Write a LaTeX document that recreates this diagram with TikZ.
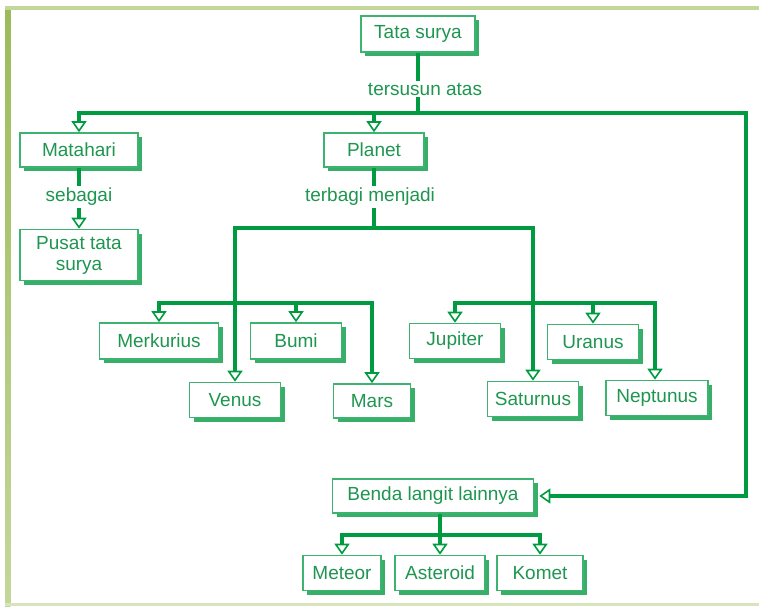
\documentclass[tikz,border=0pt]{standalone}
\usepackage{fontspec}
\setmainfont{Liberation Sans}
\usetikzlibrary{arrows.meta,shadows}
\definecolor{linec}{RGB}{0,155,65}
\definecolor{boxc}{RGB}{60,180,112}
\definecolor{shadc}{RGB}{55,175,105}
\definecolor{txtc}{RGB}{30,150,80}
\definecolor{barA}{RGB}{155,187,89}
\definecolor{barB}{RGB}{196,215,155}
\definecolor{barC}{RGB}{215,228,188}
\tikzset{
  box/.style={draw=boxc, line width=1.6pt, fill=white, text=txtc,
    font=\fontsize{19}{21}\selectfont, inner sep=0pt, align=center,
    drop shadow={shadow xshift=4pt, shadow yshift=-4pt, fill=shadc, opacity=1}},
  lbl/.style={fill=white, text=txtc, font=\fontsize{19}{21}\selectfont, inner sep=2pt},
  conn/.style={draw=linec, line width=3.6pt},
  arr/.style={conn, -{Triangle[length=11pt,width=15pt,fill=white,line width=1.6pt]}}
}
\begin{document}
\begin{tikzpicture}[x=1pt,y=-1pt]
\useasboundingbox (0,0) rectangle (759,606);
% frame
\shade[top color=barA, bottom color=barB] (5,6) rectangle (10.5,606);
\fill[barB] (5,6) rectangle (759,9.5);
\fill[barC] (5,603) rectangle (759,605.5);

% nodes
\node[box, minimum width=114pt, minimum height=36pt] (tata) at (418,34) {Tata surya};
\node[lbl] (lbl1) at (425,89) {tersusun atas};
\node[box, minimum width=118pt, minimum height=34pt] (matahari) at (79,150) {Matahari};
\node[box, minimum width=100pt, minimum height=34pt] (planet) at (374,150) {Planet};
\node[lbl] (lbl2) at (79,197) {sebagai};
\node[box, minimum width=118pt, minimum height=51pt] (pusat) at (79,255) {Pusat tata\\surya};
\node[lbl] (lbl3) at (370,197) {terbagi menjadi};

\node[box, minimum width=119pt, minimum height=36pt] (merkurius) at (159,341) {Merkurius};
\node[box, minimum width=91pt, minimum height=36pt] (bumi) at (296,341) {Bumi};
\node[box, minimum width=91pt, minimum height=35pt] (venus) at (235,400) {Venus};
\node[box, minimum width=77pt, minimum height=34pt] (mars) at (372,401) {Mars};
\node[box, minimum width=91pt, minimum height=35pt] (jupiter) at (455,341) {Jupiter};
\node[box, minimum width=91pt, minimum height=35pt] (uranus) at (593,342) {Uranus};
\node[box, minimum width=91pt, minimum height=35pt] (saturnus) at (533,399) {Saturnus};
\node[box, minimum width=102pt, minimum height=35pt] (neptunus) at (657,398) {Neptunus};

\node[box, minimum width=201pt, minimum height=34pt] (benda) at (433,496) {Benda langit lainnya};
\node[box, minimum width=78pt, minimum height=35pt] (meteor) at (342,573) {Meteor};
\node[box, minimum width=90pt, minimum height=35pt] (asteroid) at (440,573) {Asteroid};
\node[box, minimum width=86pt, minimum height=35pt] (komet) at (540,573) {Komet};

% junction coordinates
\coordinate (j1) at (418,113);
\coordinate (c1) at (746,113);
\coordinate (j2) at (374,228);
\coordinate (bO) at (235,303);
\coordinate (cO) at (533,303);
\coordinate (dO) at (440,535);

% connectors
\draw[conn] (tata.south) -- (tata.south |- lbl1.north);
\draw[conn] (tata.south |- lbl1.south) -- (j1);
\draw[arr] (j1) -| (matahari.north);
\draw[arr] (j1) -| (planet.north);
\draw[arr] (j1) -- (c1) |- ([xshift=5pt]benda.east);

\draw[conn] (matahari.south) -- (lbl2.north);
\draw[arr] (lbl2.south) -- (pusat.north);

\draw[conn] (planet.south) -- (planet.south |- lbl3.north);
\draw[conn] (planet.south |- lbl3.south) -- (j2);
\draw[arr] (j2) -| (venus.north);
\draw[arr] (j2) -| (saturnus.north);

\draw[arr] (bO) -| (merkurius.north);
\draw[arr] (bO) -| (bumi.north);
\draw[arr] (bO) -| (mars.north);

\draw[arr] (cO) -| (jupiter.north);
\draw[arr] (cO) -| (uranus.north);
\draw[arr] (cO) -| ([xshift=-2pt]neptunus.north);

\draw[conn] (benda.south -| dO) -- (dO);
\draw[arr] (dO) -| (meteor.north);
\draw[arr] (dO) -- (asteroid.north);
\draw[arr] (dO) -| (komet.north);
\end{tikzpicture}
\end{document}
